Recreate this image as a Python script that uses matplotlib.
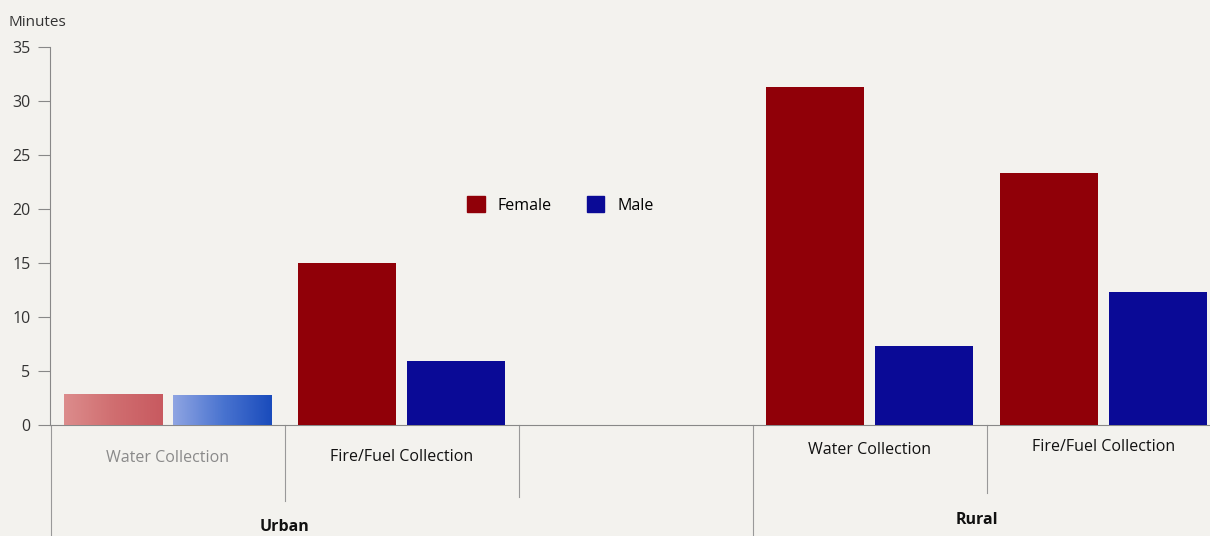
import numpy as np
import matplotlib
matplotlib.use('Agg')
import matplotlib.pyplot as plt
from matplotlib.colors import LinearSegmentedColormap
from matplotlib.patches import Patch

plt.rcParams['font.family'] = ['Open Sans', 'DejaVu Sans']

# slots of the category axis (the third one is left empty in the original)
slot_labels = ['Water Collection', 'Fire/Fuel Collection', '', 'Water Collection', 'Fire/Fuel Collection']
groups = ['Urban', 'Rural']
female = [2.9, 15.0, np.nan, 31.3, 23.3]
male = [2.8, 5.9, np.nan, 7.3, 12.3]

bg = '#f3f2ee'
red = '#900008'
blue = '#0a0a96'

fig = plt.figure(figsize=(12.1, 5.36), dpi=100, facecolor=bg)
ax = fig.add_axes([50 / 1210, 1 - 425 / 536, 1160 / 1210, 378 / 536])
ax.set_facecolor(bg)

x = np.arange(len(slot_labels))
w = 0.42
off = 0.233
bf = ax.bar(x - off, female, w, color=red, zorder=3)
bm = ax.bar(x + off, male, w, color=blue, zorder=3)

# the urban water bars are faded in the original, with a light gradient
grads = [(bf[0], ['#dc8c8c', '#d06e70', '#c85a60']),
         (bm[0], ['#8ea4e2', '#4a74d0', '#1a4cbc'])]
for patch, cols in grads:
    cmap = LinearSegmentedColormap.from_list('g', cols)
    px, py = patch.get_x(), patch.get_y()
    pw, ph = patch.get_width(), patch.get_height()
    patch.set_facecolor('none')
    im = ax.imshow(np.linspace(0, 1, 64).reshape(1, -1), cmap=cmap, aspect='auto',
                   extent=[px, px + pw, py, py + ph], zorder=3)
    im.set_clip_path(patch)

ax.set_ylim(0, 35)
ax.set_xlim(-0.503, 4.455)
ax.set_yticks(range(0, 36, 5))
ax.tick_params(axis='y', length=9, color='#888888', labelsize=11.5, pad=5, labelcolor='#333333')
ax.tick_params(axis='x', length=0)
ax.set_xticks([])
for s in ['top', 'right']:
    ax.spines[s].set_visible(False)
ax.spines['left'].set_color('#888888')
ax.spines['bottom'].set_color('#888888')
ax.spines['left'].set_linewidth(0.8)
ax.spines['bottom'].set_linewidth(0.8)

trans = ax.get_xaxis_transform()
# category labels under the axis
label_y = [-0.087, -0.085, 0, -0.066, -0.058]
for i, lab in enumerate(slot_labels):
    if lab:
        c = '#8a8a8a' if i == 0 else '#111111'
        ax.text(i, label_y[i], lab, transform=trans, ha='center', va='center',
                fontsize=11.5, color=c)
# dividers between slots
for xd, yb in [(0.5, -0.2), (1.5, -0.19), (3.5, -0.18)]:
    ax.plot([xd, xd], [0, yb], transform=trans, color='#999999', lw=0.8, clip_on=False)
for xd in [-0.5, 2.5]:
    ax.plot([xd, xd], [0, -0.3], transform=trans, color='#999999', lw=0.8, clip_on=False)
# group labels
ax.text(0.5, -0.27, groups[0], transform=trans, ha='center', va='center',
        fontsize=11.5, fontweight='bold', color='#111111')
ax.text(3.46, -0.25, groups[1], transform=trans, ha='center', va='center',
        fontsize=11.5, fontweight='bold', color='#111111')

fig.text(8 / 1210, 1 - 22 / 536, 'Minutes', fontsize=11, color='#333333', va='center')

handles = [Patch(color=red, label='Female'), Patch(color=blue, label='Male')]
ax.legend(handles=handles, loc='center', bbox_to_anchor=(0.44, 0.582), ncol=2, frameon=False,
          fontsize=11.5, handlelength=1.1, handleheight=1.1, columnspacing=2.2,
          handletextpad=0.8)

fig.savefig('out.png', dpi=100, facecolor=bg)
